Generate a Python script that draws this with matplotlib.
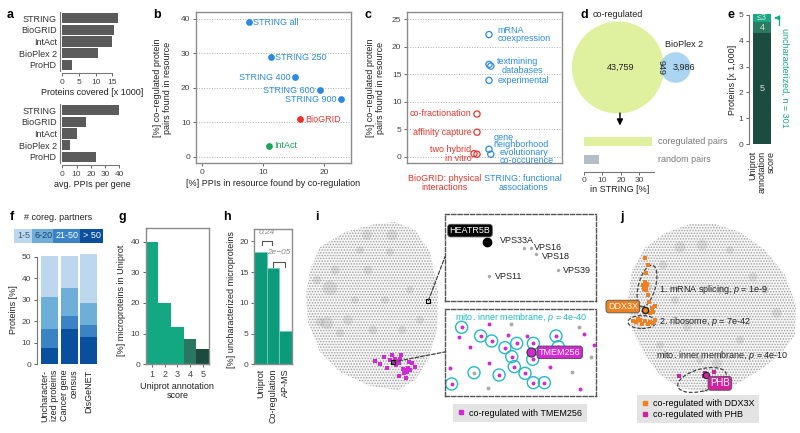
import numpy as np
import matplotlib
matplotlib.use('Agg')
import matplotlib.pyplot as plt
import matplotlib.transforms as mtrans
from matplotlib.patches import Ellipse, Circle, ConnectionPatch
from matplotlib.lines import Line2D

plt.rcParams['font.family'] = ['Liberation Sans', 'DejaVu Sans']
plt.rcParams['font.size'] = 6.5
plt.rcParams['mathtext.fontset'] = 'custom'
plt.rcParams['mathtext.rm'] = 'Liberation Sans'
plt.rcParams['mathtext.it'] = 'Liberation Sans:italic'
plt.rcParams['hatch.linewidth'] = 0.7

FS = 6.5
TFS = 6.0

# ---------------- data ----------------
a_resources = ['STRING', 'BioGRID', 'IntAct', 'BioPlex 2', 'ProHD']
a_proteins_covered_k = [16.8, 15.6, 14.9, 10.6, 2.9]
a_avg_ppis_per_gene = [39.5, 16.5, 10.5, 5.4, 23.5]

b_labels = ['STRING all', 'STRING 250', 'STRING 400', 'STRING 600', 'STRING 900', 'BioGRID', 'IntAct']
b_ppis_found_pct = [7.6, 11.2, 15.2, 19.3, 22.8, 16.1, 11.0]
b_coreg_found_pct = [39.1, 28.9, 23.1, 19.3, 16.7, 10.9, 3.2]
b_source = ['STRING', 'STRING', 'STRING', 'STRING', 'STRING', 'BioGRID', 'IntAct']

c_source = ['STRING'] * 6 + ['BioGRID'] * 4
c_evidence = ['mRNA\ncoexpression', 'textmining', 'databases', 'experimental',
              'gene\nneighborhood', 'evolutionary\nco-occurence',
              'co-fractionation', 'affinity capture', 'two hybrid', 'in vitro']
c_coreg_found_pct = [22.2, 16.8, 16.5, 13.9, 1.4, 0.5, 7.8, 4.5, 0.6, 0.5]
c_jitter = [0, 0, 0.15, 0, 0, 0.15, 0, 0, -0.25, 0]

d_only_coreg = 43759
d_both = 949
d_only_bioplex = 3986
d_pair_types = ['coregulated pairs', 'random pairs']
d_in_string_pct = [36.6, 8.3]

e_scores = ['5', '4', '≤3']
e_proteins_k = [4.31, 0.42, 0.301]

f_groups = ['Uncharacter-\nized proteins', 'Cancer gene\ncensus', 'DisGeNET']
f_bins = ['> 50', '21-50', '6-20', '1-5']
f_pct_gt50 = [7.7, 16.3, 12.6]
f_pct_21_50 = [8.6, 6.0, 5.6]
f_pct_6_20 = [15.2, 13.2, 10.3]
f_pct_1_5 = [19.0, 14.7, 23.0]

g_scores = [1, 2, 3, 4, 5]
g_microprot_pct = [40.0, 20.0, 12.0, 8.3, 4.9]

h_sources = ['Uniprot', 'Co-regulation', 'AP-MS']
h_unchar_pct = [18.3, 15.7, 5.45]
h_pvalues = ['0.24', '2e\u221205']

# t-SNE map (panel i): outline of the point cloud and dense clusters
i_cloud_x = [6, 10, 20, 45, 75, 95, 115, 130, 138, 137, 128, 115, 98, 70, 40, 20, 8]
i_cloud_y = [105, 130, 153, 168, 176, 178, 170, 148, 110, 70, 40, 20, 10, 14, 28, 48, 78]
i_blob_x = [30, 27, 48, 67, 92, 35, 68, 73, 102, 17, 90, 40, 110, 120, 85, 55, 20, 60]
i_blob_y = [112, 77, 80, 165, 165, 130, 130, 70, 70, 120, 148, 67, 110, 80, 100, 100, 78, 150]
i_blob_s = [110, 80, 50, 50, 60, 40, 40, 40, 35, 35, 30, 35, 30, 30, 30, 30, 40, 30]
i_tmem_x = [97, 95, 99, 94, 100, 96, 105, 107, 103, 108, 104, 110, 75, 84, 112, 87, 92, 101, 115, 106, 99, 90, 80, 109]
i_tmem_y = [39, 41, 37, 37, 41, 35, 30, 28, 31, 32, 27, 30, 39, 43, 37, 32, 45, 45, 33, 22, 24, 40, 36, 38]
i_heatr5b_xy = (128.3, 99.3)
i_tmem256_xy = (93, 38)

# zoom-in 1 (HEATR5B neighbourhood)
z1_names = ['VPS33A', 'VPS16', 'VPS18', 'VPS39', 'VPS11']
z1_x = [0.525, 0.570, 0.603, 0.750, 0.293]
z1_y = [0.604, 0.604, 0.535, 0.354, 0.285]
z1_heatr5b = (0.276, 0.674)

# zoom-in 2 (TMEM256 neighbourhood)
z2_ring_x = [0.110, 0.236, 0.309, 0.397, 0.475, 0.442, 0.581, 0.585, 0.735, 0.750, 0.459, 0.358, 0.530, 0.585, 0.658, 0.044]
z2_ring_y = [0.789, 0.689, 0.631, 0.554, 0.604, 0.450, 0.420, 0.604, 0.689, 0.565, 0.335, 0.239, 0.258, 0.150, 0.150, 0.135]
z2_ring_gray_x = [0.192]
z2_ring_gray_y = [0.265]
z2_mag_x = [0.294, 0.093, 0.166, 0.419, 0.541, 0.921, 0.987, 0.294, 0.033, 0.695, 0.894]
z2_mag_y = [0.823, 0.681, 0.565, 0.700, 0.689, 0.712, 0.585, 0.381, 0.316, 0.335, 0.077]
z2_gray_x = [0.435, 0.887, 0.965, 0.839, 0.287]
z2_gray_y = [0.823, 0.789, 0.443, 0.277, 0.092]
z2_tmem256 = (0.567, 0.500)

# t-SNE map (panel j)
j_cloud_x = [28, 32, 45, 65, 90, 115, 140, 165, 185, 196, 195, 180, 160, 135, 105, 80, 60, 45, 32]
j_cloud_y = [100, 130, 152, 167, 176, 176, 168, 150, 125, 95, 65, 45, 30, 15, 8, 12, 25, 45, 70]
j_blob_x = [80, 102, 47, 40, 117, 177, 87, 153, 63, 120, 140, 100, 60, 165, 130, 75]
j_blob_y = [153, 155, 113, 78, 37, 87, 73, 123, 135, 110, 60, 40, 55, 110, 150, 100]
j_blob_s = [60, 60, 55, 50, 55, 50, 35, 40, 35, 35, 35, 30, 30, 30, 30, 30]
j_ddx3x_x = [45, 48, 46, 43, 46, 48, 49, 52, 50, 46, 44, 47, 45, 36, 40, 45, 50, 42, 48, 55, 38, 53, 33, 53, 55]
j_ddx3x_y = [142, 135, 127, 115, 110, 105, 98, 92, 87, 113, 111, 116, 118, 78, 80, 79, 78, 76, 76, 80, 81, 77, 79, 88, 94]
j_phb_x = [79, 106, 105, 107, 104, 114]
j_phb_y = [24, 25, 27, 23, 24, 28]
j_ddx3x_node = (45, 90)
j_phb_node = (106, 25)
j_terms = ['1. mRNA splicing, $p$ = 1e-9', '2. ribosome, $p$ = 7e-42', 'mito. inner membrane, $p$ = 4e-10']
j_term_x = [59, 59, 56]
j_term_y = [111, 79, 44]
j_ell_x = [47, 42, 102]
j_ell_y = [114, 78, 20]
j_ell_w = [17, 28, 50]
j_ell_h = [43, 13, 22]
j_ell_a = [-15, 0, 15]

# ---------------- helpers ----------------
W, H = 800, 433
fig = plt.figure(figsize=(8, 4.33), dpi=100)


def pax(x0, y0, x1, y1):
    return fig.add_axes([x0 / W, 1 - y1 / H, (x1 - x0) / W, (y1 - y0) / H])


def ftext(x, y, s, **kw):
    return fig.text(x / W, 1 - y / H, s, **kw)


TICKC = '#444444'
FRAME = '#8c8c8c'
BLUE = '#2a8be0'
RED = '#e8332a'
GREEN = '#18a558'
TEAL = '#17a983'
MAG = '#d22ad2'
PINK = '#d0229c'
ORANGE = '#f07f1d'
CYAN = '#1fbcc6'
TXT = '#222222'


def ticks(ax):
    ax.tick_params(labelsize=TFS, labelcolor=TICKC, color='#666666', length=2.5, width=0.7, pad=1.5)


def panel(x, y, s):
    ftext(x, y, s, fontsize=9, fontweight='bold', ha='center', va='center')


def frame(ax):
    for sp in ax.spines.values():
        sp.set_color(FRAME)
        sp.set_linewidth(1.0)


# ---------------- panel a ----------------
for (y0, y1, vals, xmax, bound, xt, xl) in [
        (12, 71, a_proteins_covered_k, 18, 15, [0, 5, 10, 15], 'Proteins covered [x 1000]'),
        (104, 163, a_avg_ppis_per_gene, 42, 40, [0, 10, 20, 30, 40], 'avg. PPIs per gene')]:
    ax = pax(62.3, y0, 122.3, y1)
    pos = np.arange(len(a_resources))[::-1]
    ax.barh(pos, vals, height=0.88, color='#5b5b5b')
    ax.set_xlim(0, xmax)
    ax.set_ylim(-0.55, 4.55)
    ax.set_yticks(pos)
    ax.set_yticklabels(a_resources)
    ax.set_xticks(xt)
    ticks(ax)
    ax.tick_params(axis='y', length=0, pad=2.5, labelsize=FS, labelcolor='#333333')
    ax.spines[['top', 'right']].set_visible(False)
    ax.spines['left'].set_position(('outward', 1.5))
    ax.spines['left'].set_color('#777777')
    ax.spines['bottom'].set_position(('outward', 1.5))
    ax.spines['bottom'].set_bounds(0, bound)
    ax.spines['bottom'].set_color('#777777')
    ax.set_xlabel(xl, fontsize=FS, color=TXT, labelpad=1.5)
panel(10, 15, 'a')

# ---------------- panel b ----------------
ax = pax(196, 12, 351, 163)
frame(ax)
ax.set_xlim(-1.03, 24.4)
ax.set_ylim(-1.74, 42.0)
ax.set_xticks([0, 10, 20])
ax.set_yticks([0, 10, 20, 30, 40])
ax.yaxis.grid(True, ls=':', color='#b0b0b0', lw=0.7)
ax.set_axisbelow(True)
ticks(ax)
col_map = {'STRING': BLUE, 'BioGRID': RED, 'IntAct': GREEN}
left_side = {'STRING 400', 'STRING 600', 'STRING 900'}
for lab, x, y, src in zip(b_labels, b_ppis_found_pct, b_coreg_found_pct, b_source):
    c = col_map[src]
    ax.scatter([x], [y], s=24, color=c, lw=0, zorder=3)
    if lab in left_side:
        ax.annotate(lab, (x, y), xytext=(-3.5, 0), textcoords='offset points', ha='right', va='center', color=c, fontsize=FS)
    else:
        ax.annotate(lab, (x, y), xytext=(3.5, 0), textcoords='offset points', ha='left', va='center', color=c, fontsize=FS)
ftext(273, 183.5, '[%] PPIs in resource found by co-regulation', ha='center', va='center', fontsize=FS, color=TXT)
ftext(162.5, 88, '[%] co\u2212regulated protein\npairs found in resource', rotation=90, ha='center', va='center', fontsize=FS, color=TXT, linespacing=1.05)
panel(157, 15, 'b')

# ---------------- panel c ----------------
ax = pax(407, 12, 562, 163)
frame(ax)
ax.set_xlim(-5.83, 7.08)
ax.set_ylim(-1.09, 26.3)
ax.set_xticks([])
ax.set_yticks([0, 5, 10, 15, 20, 25])
ax.yaxis.grid(True, ls=':', color='#b0b0b0', lw=0.7)
ax.set_axisbelow(True)
ticks(ax)
c_pos = {'BioGRID': 0, 'STRING': 1}
c_col = {'BioGRID': RED, 'STRING': BLUE}
c_offsets = {'mRNA\ncoexpression': (6, 0), 'textmining': (6, 1.8), 'databases': (7.8, -3.3),
             'experimental': (6, 0), 'gene\nneighborhood': (3, 6.0), 'evolutionary\nco-occurence': (6, -1.5),
             'co-fractionation': (-4, 0), 'affinity capture': (-4, 0), 'two hybrid': (-2, 3.2),
             'in vitro': (-4, -3)}
for ev, src, v, jit in zip(c_evidence, c_source, c_coreg_found_pct, c_jitter):
    x = c_pos[src] + jit
    col = c_col[src]
    ax.scatter([x], [v], s=20, facecolor='none', edgecolor=col, lw=0.9, zorder=3)
    dx, dy = c_offsets[ev]
    ax.annotate(ev, (x, v), xytext=(dx, dy), textcoords='offset points',
                ha='left' if dx > 0 else 'right', va='center', color=col, fontsize=FS,
                linespacing=0.8, multialignment='left' if dx > 0 else 'right')
ax.text(0.245, -0.075, 'BioGRID: physical\ninteractions', transform=ax.transAxes, ha='center', va='top', color=RED, fontsize=FS, linespacing=1.0)
ax.text(0.75, -0.075, 'STRING: functional\nassociations', transform=ax.transAxes, ha='center', va='top', color=BLUE, fontsize=FS, linespacing=1.0)
ftext(375.5, 88, '[%] co\u2212regulated protein\npairs found in resource', rotation=90, ha='center', va='center', fontsize=FS, color=TXT, linespacing=1.05)
panel(368, 15, 'c')

# ---------------- panel d ----------------
r_big = np.sqrt(d_only_coreg + d_both)
r_small = np.sqrt(d_only_bioplex + d_both)


def lens_area(d, r1, r2):
    a1 = r1 ** 2 * np.arccos((d ** 2 + r1 ** 2 - r2 ** 2) / (2 * d * r1))
    a2 = r2 ** 2 * np.arccos((d ** 2 + r2 ** 2 - r1 ** 2) / (2 * d * r2))
    a3 = 0.5 * np.sqrt((-d + r1 + r2) * (d + r1 - r2) * (d - r1 + r2) * (d + r1 + r2))
    return a1 + a2 - a3


lo, hi = r_big - r_small + 1e-6, r_big + r_small - 1e-6
for _ in range(80):
    mid = 0.5 * (lo + hi)
    if lens_area(mid, r_big, r_small) > d_both:
        lo = mid
    else:
        hi = mid
dist = 0.5 * (lo + hi)

ax = pax(560, 10, 700, 125)
ax.set_xlim(-266.5, 376.8)
ax.set_ylim(-264.2, 264.2)
ax.axis('off')
ax.add_patch(Circle((0, 0), r_big, fc='#dff09e', ec='none'))
ax.add_patch(Circle((dist, 0), r_small, fc='#a7d3f0', ec='none', alpha=0.95))
ax.text(12, 0, f'{d_only_coreg:,}', ha='center', va='center', fontsize=FS, color=TXT)
ax.text((r_big + dist - r_small) / 2 - 6, 0, f'{d_both:,}', ha='center', va='center', fontsize=FS, rotation=270, color=TXT)
ax.text(r_big + 0.55 * r_small, 0, f'{d_only_bioplex:,}', ha='left', va='center', fontsize=FS, color=TXT)
ax.text(dist + 40, r_small + 14, 'BioPlex 2', ha='center', va='bottom', fontsize=FS, color=TXT)
ax.text(0, r_big + 12, 'co-regulated', ha='center', va='bottom', fontsize=FS, color=TXT)
ax.annotate('', xy=(9, -r_big - 68), xytext=(9, -r_big + 15),
            arrowprops=dict(arrowstyle='-|>', color='k', lw=1.0, mutation_scale=9), annotation_clip=False)
panel(584, 15, 'd')

ax = pax(584, 132, 655, 166)
ax.barh([1, 0], d_in_string_pct, height=0.55, color=['#dff09e', '#b5bdc9'])
ax.set_xlim(0, 38.4)
ax.set_ylim(-0.36, 1.53)
ax.set_yticks([])
ax.set_xticks([0, 10, 20, 30])
ticks(ax)
ax.spines[['top', 'right', 'left']].set_visible(False)
ax.spines['bottom'].set_position(('outward', 4))
ax.spines['bottom'].set_bounds(0, 38)
ax.spines['bottom'].set_color('#777777')
ax.set_xlabel('in STRING [%]', fontsize=FS, color=TXT, labelpad=1)
tr = mtrans.blended_transform_factory(ax.transAxes, ax.transData)
for yy, lab in zip([1, 0], d_pair_types):
    ax.text(1.04, yy, lab, transform=tr, ha='left', va='center', fontsize=FS, color='#7a7a7a')

# ---------------- panel e ----------------
ax = pax(753.3, 14, 770.7, 144.3)
e_colors = ['#1a4d3f', '#2b7a62', '#16a983']
bottom = 0
for lab, v, c in zip(e_scores, e_proteins_k, e_colors):
    ax.bar([0], [v], bottom=bottom, width=1, color=c, edgecolor='none')
    ax.text(0, bottom + v / 2, lab, ha='center', va='center', fontsize=FS, color='#dddddd')
    bottom += v
ax.set_xlim(-0.5, 0.5)
ax.set_ylim(0, 5.03)
ax.set_xticks([])
ax.set_yticks([0, 1, 2, 3, 4, 5])
ticks(ax)
ax.spines[['top', 'right', 'bottom']].set_visible(False)
ax.spines['left'].set_position(('outward', 3))
ax.spines['left'].set_bounds(0, 5)
ax.spines['left'].set_color('#777777')
ytop = bottom - e_proteins_k[-1] / 2
ax.annotate('', xy=(0.55, ytop), xytext=(0.98, ytop),
            arrowprops=dict(arrowstyle='-|>', color=TEAL, lw=0.9, mutation_scale=7), annotation_clip=False)
ax.plot([0.98, 0.98], [ytop, 4.6], color=TEAL, lw=0.9, clip_on=False)
ax.text(1.28, 4.5, f'uncharacterized, n = {round(e_proteins_k[-1] * 1000)}', rotation=270,
        ha='center', va='top', color=TEAL, fontsize=FS)
ax.text(0, -0.25, 'Uniprot\nannotation\nscore', rotation=90, ha='center', va='top',
        multialignment='right', fontsize=FS, color=TXT, linespacing=1.0)
ftext(732.7, 80, 'Proteins [x 1,000]', rotation=90, ha='center', va='center', fontsize=FS, color=TXT)
panel(731, 15, 'e')

# ---------------- panel f ----------------
ax = pax(41, 250.4, 97.3, 364.3)
f_colors = ['#0a4f9e', '#3a83c4', '#6dafd9', '#bdd7ee']
xpos = np.arange(len(f_groups))
bottom = np.zeros(3)
for vals, c in zip([f_pct_gt50, f_pct_21_50, f_pct_6_20, f_pct_1_5], f_colors):
    ax.bar(xpos, vals, bottom=bottom, width=0.87, color=c, edgecolor='none')
    bottom += np.array(vals)
ax.set_xlim(-0.435, 2.435)
ax.set_ylim(0, 53)
ax.set_yticks([0, 10, 20, 30, 40, 50])
ax.set_xticks(xpos)
ax.set_xticklabels(f_groups, rotation=90, va='top', ha='center', multialignment='right',
                   linespacing=1.0)
ticks(ax)
ax.tick_params(axis='x', length=0, pad=4, labelsize=FS, labelcolor=TXT)
ax.spines[['top', 'right', 'bottom']].set_visible(False)
ax.spines['left'].set_position(('outward', 3))
ax.spines['left'].set_bounds(0, 50)
ax.spines['left'].set_color('#777777')
ftext(14, 310, 'Proteins [%]', rotation=90, ha='center', va='center', fontsize=FS, color=TXT)
ftext(58, 217, '# coreg. partners', ha='center', va='center', fontsize=FS, color=TXT)
leg_x = [23.7, 43.3, 67, 91.7]
leg_tc = ['#3b5c80', '#1d3f6a', 'white', 'white']
for lx, lab, c, tc in zip(leg_x, f_bins[::-1], f_colors[::-1], leg_tc):
    ftext(lx, 236, lab, ha='center', va='center', fontsize=FS, color=tc,
          bbox=dict(boxstyle='square,pad=0.3', fc=c, ec='none'))
panel(12, 217, 'f')

# ---------------- panel g ----------------
ax = pax(145.7, 228.3, 209, 364.3)
frame(ax)
g_colors = ['#14a882', '#14a882', '#14a882', '#2a7761', '#1c4a3d']
ax.bar(g_scores, g_microprot_pct, width=1, color=g_colors, edgecolor='none')
ax.set_xlim(0.5, 5.5)
ax.set_ylim(0, 44.3)
ax.set_xticks(g_scores)
ax.set_yticks([0, 10, 20, 30, 40])
ticks(ax)
ax.tick_params(axis='x', labelsize=FS)
ax.set_xlabel('Uniprot annotation\nscore', fontsize=FS, color=TXT, labelpad=2, linespacing=1.0)
ftext(121.7, 300, '[%] microproteins in Uniprot', rotation=90, ha='center', va='center', fontsize=FS, color=TXT)
panel(122, 217, 'g')

# ---------------- panel h ----------------
ax = pax(254.3, 229, 291.7, 364.3)
frame(ax)
hx = np.arange(len(h_sources))
ax.bar(hx, h_unchar_pct, width=1, color='#0b9b7b', edgecolor='#6fd0b6', lw=0.6)
ax.set_xlim(-0.5, 2.5)
ax.set_ylim(0, 22.0)
ax.set_xticks(hx)
ax.set_xticklabels(h_sources, rotation=90)
ax.set_yticks([0, 5, 10, 15, 20])
ticks(ax)
ax.tick_params(axis='x', length=0, pad=3, labelsize=FS, labelcolor=TXT)
for (x0, x1, ytop, leg, lab, ty) in [(0.1, 0.95, 20.0, 0.6, h_pvalues[0], 20.9),
                                     (1.03, 1.97, 16.65, 0.8, h_pvalues[1], 17.6)]:
    ax.plot([x0, x0, x1, x1], [ytop - leg, ytop, ytop, ytop - leg], color='#555555', lw=0.8)
    ax.text((x0 + x1) / 2, ty, lab, ha='center', va='bottom', fontsize=6, color='#8a8a8a', style='italic')
ftext(231.7, 300, '[%] uncharacterized microproteins', rotation=90, ha='center', va='center', fontsize=FS, color=TXT)
panel(227, 217, 'h')

# ---------------- panel i ----------------
ax_i = pax(300, 215, 445, 400)
ax_i.set_xlim(0, 145)
ax_i.set_ylim(0, 185)
ax_i.axis('off')
ax_i.fill(i_cloud_x, i_cloud_y, facecolor='#f6f6f6', edgecolor='#a0a0a0', hatch='......', lw=0)
ax_i.scatter(i_blob_x, i_blob_y, s=i_blob_s, c='#8f8f8f', alpha=0.22, lw=0)
ax_i.scatter(i_tmem_x, i_tmem_y, s=7, c=MAG, marker='s', lw=0, zorder=3)
ax_i.plot(*i_heatr5b_xy, marker='s', mfc='none', mec='k', ms=3, mew=0.8)
ax_i.plot(*i_tmem256_xy, marker='s', mfc='none', mec='k', ms=3, mew=0.8, zorder=4)
panel(317, 217, 'i')

z1 = pax(445, 214, 596, 300.7)
z2 = pax(445, 309, 596, 395.7)
for z in (z1, z2):
    z.set_xlim(0, 1)
    z.set_ylim(0, 1)
    z.set_xticks([])
    z.set_yticks([])
    for sp in z.spines.values():
        sp.set_linestyle((0, (3, 1.5)))
        sp.set_color('#555555')
        sp.set_linewidth(1.0)

z1.scatter(z1_x, z1_y, s=6, c='#aaaaaa', lw=0)
z1.plot(*z1_heatr5b, marker='o', color='k', ms=6)
z1.annotate('HEATR5B', z1_heatr5b, xytext=(-12, 8.4), textcoords='offset points', ha='center', va='center',
            color='white', fontsize=FS, bbox=dict(boxstyle='round,pad=0.2,rounding_size=0.3', fc='black', ec='#555555', lw=0.6))
z1_off = {'VPS33A': (-17.5, 5.6), 'VPS16': (2.2, 0.8), 'VPS18': (4.3, -1.8), 'VPS39': (3.4, 0), 'VPS11': (4, -0.5)}
for n, x, y in zip(z1_names, z1_x, z1_y):
    z1.annotate(n, (x, y), xytext=z1_off[n], textcoords='offset points', ha='left', va='center', fontsize=FS, color=TXT)

z2.scatter(z2_ring_x + z2_ring_gray_x, z2_ring_y + z2_ring_gray_y, s=75, facecolor='none', edgecolor=CYAN, lw=1.0)
z2.scatter(z2_ring_x + z2_mag_x, z2_ring_y + z2_mag_y, s=8, c=MAG, lw=0, zorder=3)
z2.scatter(z2_ring_gray_x + z2_gray_x, z2_ring_gray_y + z2_gray_y, s=8, c='#aaaaaa', lw=0, zorder=3)
z2.plot(*z2_tmem256, marker='o', color=MAG, mec='#333333', mew=0.8, ms=6.5, zorder=4)
z2.annotate('TMEM256', z2_tmem256, xytext=(6, 0), textcoords='offset points', ha='left', va='center',
            color='white', fontsize=FS, zorder=5,
            bbox=dict(boxstyle='round,pad=0.2,rounding_size=0.3', fc=MAG, ec='#444444', lw=0.6))
z2.text(0.066, 0.9, 'mito. inner membrane, $p$ = 4e-40', transform=z2.transAxes, ha='left', va='center',
        fontsize=FS, color=CYAN)

for (xyA, zax, xyB) in [(i_heatr5b_xy, z1, (0, 0.507)), (i_tmem256_xy, z2, (0, 0.505))]:
    con = ConnectionPatch(xyA=xyA, coordsA=ax_i.transData, xyB=xyB, coordsB=zax.transAxes,
                          ls=(0, (3, 1.5)), color='#444444', lw=0.9)
    fig.add_artist(con)

fig.legend([Line2D([], [], ls='', marker='s', color=MAG, ms=2.5)], ['co-regulated with TMEM256'],
           loc='center', bbox_to_anchor=(520 / W, 1 - 413 / H), frameon=True, fancybox=False,
           facecolor='#e3e3e3', edgecolor='none', framealpha=1, fontsize=FS, handlelength=0.8,
           handletextpad=0.5, borderpad=0.55)

# ---------------- panel j ----------------
ax = pax(600, 215, 800, 400)
ax.set_xlim(0, 200)
ax.set_ylim(0, 185)
ax.axis('off')
ax.fill(j_cloud_x, j_cloud_y, facecolor='#f6f6f6', edgecolor='#a0a0a0', hatch='......', lw=0)
ax.scatter(j_blob_x, j_blob_y, s=j_blob_s, c='#8f8f8f', alpha=0.22, lw=0)
for ex, ey, ew, eh, ea in zip(j_ell_x, j_ell_y, j_ell_w, j_ell_h, j_ell_a):
    ax.add_patch(Ellipse((ex, ey), ew, eh, angle=ea, fill=False, ls=(0, (3, 1.5)), ec='#444444', lw=0.9))
ax.scatter(j_ddx3x_x, j_ddx3x_y, s=7, c=ORANGE, marker='s', lw=0, zorder=3)
ax.scatter(j_phb_x, j_phb_y, s=7, c=PINK, marker='s', lw=0, zorder=3)
ax.plot(*j_ddx3x_node, marker='o', mfc=ORANGE, mec='#222222', mew=1.0, ms=4.5, zorder=4)
ax.plot(*j_phb_node, marker='o', mfc=PINK, mec='#222222', mew=0.8, ms=4.5, zorder=4)
ax.annotate('DDX3X', j_ddx3x_node, xytext=(-16, 2.5), textcoords='offset points', ha='center', va='center',
            color='white', fontsize=FS, zorder=5,
            bbox=dict(boxstyle='round,pad=0.2,rounding_size=0.3', fc=ORANGE, ec='#555555', lw=0.6))
ax.annotate('PHB', j_phb_node, xytext=(10, -6), textcoords='offset points', ha='center', va='center',
            color='white', fontsize=7, zorder=5,
            bbox=dict(boxstyle='round,pad=0.2,rounding_size=0.3', fc=PINK, ec='#555555', lw=0.6))
for t, tx, ty in zip(j_terms, j_term_x, j_term_y):
    ax.text(tx, ty, t, ha='left', va='center', fontsize=FS, color=TXT)
fig.legend([Line2D([], [], ls='', marker='s', color=ORANGE, ms=2.5),
            Line2D([], [], ls='', marker='s', color=PINK, ms=2.5)],
           ['co-regulated with DDX3X', 'co-regulated with PHB'],
           loc='center', bbox_to_anchor=(698 / W, 1 - 409 / H), frameon=True, fancybox=False,
           facecolor='#e3e3e3', edgecolor='none', framealpha=1, fontsize=FS, handlelength=0.8,
           handletextpad=0.5, borderpad=0.45, labelspacing=0.25)
panel(622, 217, 'j')

fig.savefig('out.png', dpi=100)
